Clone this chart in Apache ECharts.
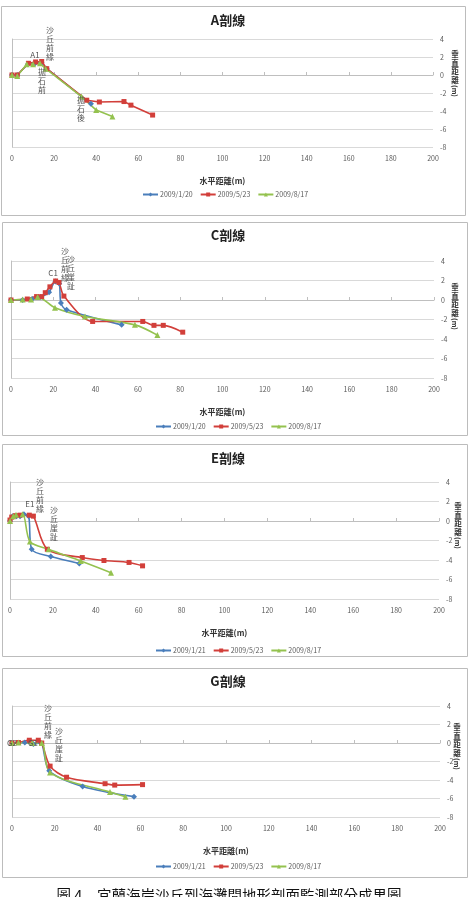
<!DOCTYPE html>
<html lang="zh-Hant">
<head>
<meta charset="UTF-8">
<title>剖線</title>
<script src="https://cdn.jsdelivr.net/npm/echarts@6/dist/echarts.min.js"></script>
<style>body{margin:0;background:#fff}</style>
</head>
<body>
<div id="main" style="width:469px;height:897px"></div>
<script>
// 水平距離(m), 垂直距離(m) pairs
let aBlue=[[0,0],[2.5,0],[7.5,1.2],[11,1.3],[14,1.4],[16.5,0.7],[37.5,-3.2]]
let aRed=[[0,0],[2.5,0],[7.8,1.3],[11.2,1.45],[14.1,1.5],[16.5,0.7],[35.5,-2.8],[41.5,-3.0],[53.2,-2.95],[56.5,-3.35],[66.8,-4.45]]
let aGreen=[[0,0],[2.5,-0.1],[7,1.2],[10,1.2],[13.3,1.3],[16,0.7],[33,-2.4],[40,-3.9],[47.7,-4.6]]

let cBlue=[[0,0],[5.5,0],[10,0.1],[14,0.3],[18,0.8],[21,1.9],[22.8,1.7],[23.6,-0.3],[26.3,-1.0],[52.3,-2.55]]
let cRed=[[0,0],[7.7,0.1],[12.1,0.35],[14.5,0.35],[16.2,0.75],[18.4,1.35],[21.1,1.95],[22.7,1.8],[25,0.4],[38.6,-2.2],[62.3,-2.2],[67.6,-2.6],[72,-2.6],[81.2,-3.3]]
let cGreen=[[0,0],[5.5,0.05],[9.5,0.05],[12.6,0.3],[20.8,-0.8],[35,-1.7],[58.6,-2.55],[69.2,-3.6]]

let eBlue=[[0,0],[1.2,0.5],[3,0.5],[4.7,0.5],[6.5,0.7],[8.7,0.5],[10.1,-2.9],[19,-3.65],[32.3,-4.35]]
let eRed=[[0,0.1],[0.8,0.4],[2.5,0.55],[4.7,0.6],[9,0.6],[10.9,0.5],[17.4,-2.9],[33.7,-3.75],[43.8,-4.05],[55.5,-4.25],[61.8,-4.6]]
let eGreen=[[0,0],[1.5,0.5],[2.8,0.65],[5.9,0.7],[9.3,-2.1],[18,-2.9],[33,-4.1],[47.1,-5.3]]

let gBlue=[[0,0],[6,0.05],[10,-0.1],[13.4,0],[17.4,-3.0],[33,-4.7],[57,-5.8]]
let gRed=[[0,0],[3,0.05],[8.1,0.3],[12.3,0.3],[13.9,0],[17.8,-2.5],[25.5,-3.7],[43.5,-4.4],[48,-4.55],[61,-4.5]]
let gGreen=[[0,0],[3,0.05],[9.5,0],[13.9,0],[17.8,-3.2],[45.8,-5.3],[53,-5.8]]

let titles=['A剖線','C剖線','E剖線','G剖線']
let legendNames=[
  ['2009/1/20','2009/5/23','2009/8/17'],
  ['2009/1/20','2009/5/23','2009/8/17'],
  ['2009/1/21','2009/5/23','2009/8/17'],
  ['2009/1/21','2009/5/23','2009/8/17']
]
let profiles=[[aBlue,aRed,aGreen],[cBlue,cRed,cGreen],[eBlue,eRed,eGreen],[gBlue,gRed,gGreen]]
let xTicks=[0,200,20]   // min, max, interval
let yTicks=[-8,4,2]

// annotation labels: text, x, y (data coords)
let notes=[
  [['A1',10.9,2.2],['A2',-1.4,-0.55],['沙\n丘\n前\n緣',18,3.55],['拋\n石\n前',14.2,-0.7],['拋\n石\n後',32.8,-3.8]],
  [['C1',19.9,2.77],['C2',-0.9,-0.7],['沙\n丘\n前\n緣',25.5,3.64],['沙\n丘\n崖\n趾',28.4,2.87]],
  [['E1',9.3,1.74],['E2',-0.9,-0.2],['沙\n丘\n前\n緣',14,2.6],['沙\n丘\n崖\n趾',20.5,-0.3]],
  [['G2',0,0],['G1',9.8,0],['沙\n丘\n前\n緣',16.8,2.38],['沙\n丘\n崖\n趾',22,-0.2]]
]

// layout
let grids=[
  {left:12,top:39,width:421,height:108},
  {left:11,top:261,width:423,height:117},
  {left:10,top:482,width:429,height:117},
  {left:12,top:706,width:428,height:111}
]
let frames=[[1,6,464,209],[2,222,465,213],[2,444,465,212],[2,668,465,209]]
let titleTop=[14,229,452,675]
let legendPos=[[142,191],[155,423],[155,647],[155,863]]
let yNamePos=[[455,50],[455,283],[458,502],[457,723]]

let colors=['#4a7ebb','#d23f3a','#94c24f']
let symbols=['diamond','rect','triangle']
let FONT='"Noto Sans CJK TC", sans-serif'

let mycharts=echarts.init(document.getElementById('main'))

let option={
  animation:false,
  textStyle:{fontFamily:FONT},
  title:[],grid:[],xAxis:[],yAxis:[],legend:[],series:[],graphic:[]
}

for(let i=0;i<4;i++){
  option.grid.push(grids[i])
  option.title.push({
    text:titles[i],left:228,top:titleTop[i],textAlign:'center',padding:0,
    textStyle:{fontSize:13,fontWeight:'bold',color:'#222',fontFamily:FONT}
  })
  option.xAxis.push({
    gridIndex:i,type:'value',min:xTicks[0],max:xTicks[1],interval:xTicks[2],
    axisLine:{lineStyle:{color:'#bfbfbf'}},
    axisTick:{show:true,inside:true,length:3,lineStyle:{color:'#bfbfbf'}},
    axisLabel:{fontSize:7,color:'#595959',margin:8},
    splitLine:{show:false},
    name:'水平距離(m)',nameLocation:'middle',nameGap:30,
    nameTextStyle:{fontSize:8,fontWeight:'bold',color:'#333'}
  })
  option.yAxis.push({
    gridIndex:i,type:'value',position:'right',min:yTicks[0],max:yTicks[1],interval:yTicks[2],
    axisLine:{show:true,lineStyle:{color:'#bfbfbf'}},
    axisTick:{show:false},
    axisLabel:{fontSize:7,color:'#595959',margin:7},
    splitLine:{lineStyle:{color:'#d9d9d9'}}
  })
  option.legend.push({
    data:legendNames[i],left:legendPos[i][0],top:legendPos[i][1],padding:0,
    itemWidth:15,itemHeight:5,itemGap:7,
    textStyle:{fontSize:7,color:'#595959',padding:[0,0,0,-3]}
  })
  for(let k=0;k<3;k++){
    let s={
      name:legendNames[i][k],type:'line',xAxisIndex:i,yAxisIndex:i,
      data:profiles[i][k],smooth:i===0?false:0.3,
      symbol:symbols[k],symbolSize:k===1?5:6,
      lineStyle:{width:1.6,color:colors[k]},
      itemStyle:{color:colors[k]}
    }
    if(k===0){
      s.markPoint={
        symbol:'rect',symbolSize:0,silent:true,
        label:{show:true,position:'inside',formatter:p=>p.name,fontSize:8,lineHeight:9,color:'#555',fontFamily:FONT},
        data:notes[i].map(n=>({name:n[0],coord:[n[1],n[2]]}))
      }
    }
    option.series.push(s)
  }
  option.graphic.push({
    type:'rect',silent:true,
    shape:{x:frames[i][0]+0.5,y:frames[i][1]+0.5,width:frames[i][2],height:frames[i][3]},
    style:{fill:null,stroke:'#bcbcbc',lineWidth:1}
  })
  option.graphic.push({
    type:'text',silent:true,x:yNamePos[i][0],y:yNamePos[i][1],
    style:{text:'垂\n直\n距\n離',align:'center',verticalAlign:'top',fontSize:7.5,lineHeight:8.5,fontWeight:'bold',fill:'#333',fontFamily:FONT}
  })
  option.graphic.push({
    type:'text',silent:true,x:yNamePos[i][0],y:yNamePos[i][1]+41,rotation:-Math.PI/2,
    style:{text:'(m)',align:'center',verticalAlign:'middle',fontSize:7,fontWeight:'bold',fill:'#333',fontFamily:FONT}
  })
}

option.graphic.push({
  type:'text',silent:true,x:229,y:888,
  style:{text:'圖 4　宜蘭海岸沙丘到海灘間地形剖面監測部分成果圖',align:'center',verticalAlign:'top',fontSize:14.5,fill:'#111',fontFamily:FONT}
})

mycharts.setOption(option)
</script>
</body>
</html>
